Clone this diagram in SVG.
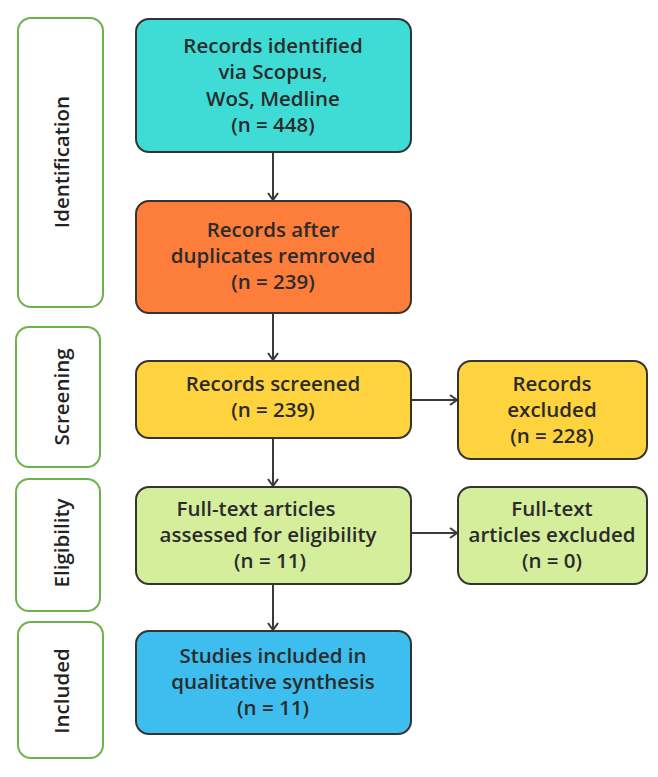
<svg xmlns="http://www.w3.org/2000/svg" width="658" height="777" viewBox="0 0 658 777">
<defs>
<style>
.stage{fill:#ffffff;stroke:#6db34b;stroke-width:2}
.node{stroke:#333333;stroke-width:2}
.t{font-family:"Open Sans","Liberation Sans",sans-serif;font-size:20.5px;font-weight:600;fill:#2b2b2b;text-anchor:middle}
.st{font-family:"Open Sans","Liberation Sans",sans-serif;font-size:20.5px;font-weight:600;fill:#222222;text-anchor:middle}
.edge{stroke:#3a3a3a;stroke-width:2;fill:none}
</style>
<marker id="arr" markerWidth="12" markerHeight="12" refX="9" refY="6" orient="auto" markerUnits="userSpaceOnUse">
<path d="M2,1 L9,6 L2,11" fill="none" stroke="#3a3a3a" stroke-width="2"/>
</marker>
</defs>
<rect width="658" height="777" fill="#ffffff"/>

<g id="stage-identification">
<rect class="stage" x="18" y="18" width="85" height="289" rx="13"/>
<text class="st" transform="translate(69,162) rotate(-90)">Identification</text>
</g>
<g id="stage-screening">
<rect class="stage" x="16" y="327" width="84" height="140" rx="13"/>
<text class="st" transform="translate(69,397) rotate(-90)">Screening</text>
</g>
<g id="stage-eligibility">
<rect class="stage" x="16" y="479" width="84" height="132" rx="13"/>
<text class="st" transform="translate(69,543) rotate(-90)">Eligibility</text>
</g>
<g id="stage-included">
<rect class="stage" x="18" y="622" width="85" height="136" rx="13"/>
<text class="st" transform="translate(69,691) rotate(-90)">Included</text>
</g>

<g id="connectors">
<line class="edge" x1="273" y1="152" x2="273" y2="200" marker-end="url(#arr)"/>
<line class="edge" x1="273" y1="313" x2="273" y2="360" marker-end="url(#arr)"/>
<line class="edge" x1="273" y1="438" x2="273" y2="486" marker-end="url(#arr)"/>
<line class="edge" x1="273" y1="584" x2="273" y2="630" marker-end="url(#arr)"/>
<line class="edge" x1="411" y1="400" x2="457" y2="400" marker-end="url(#arr)"/>
<line class="edge" x1="411" y1="533" x2="457" y2="533" marker-end="url(#arr)"/>
</g>

<g id="node-identified">
<rect class="node" x="136" y="19" width="275" height="133" rx="13" fill="#3edcd5"/>
<text class="t" x="273" y="53">Records identified</text>
<text class="t" x="273" y="79">via Scopus,</text>
<text class="t" x="273" y="106">WoS, Medline</text>
<text class="t" x="273" y="132">(n = 448)</text>
</g>
<g id="node-duplicates">
<rect class="node" x="136" y="201" width="275" height="112" rx="13" fill="#fd7e3b"/>
<text class="t" x="273" y="237">Records after</text>
<text class="t" x="273" y="263">duplicates remroved</text>
<text class="t" x="273" y="289">(n = 239)</text>
</g>
<g id="node-screened">
<rect class="node" x="136" y="361" width="275" height="77" rx="13" fill="#fed33e"/>
<text class="t" x="273" y="391">Records screened</text>
<text class="t" x="273" y="417">(n = 239)</text>
</g>
<g id="node-excluded">
<rect class="node" x="458" y="361" width="189" height="98" rx="13" fill="#fed33e"/>
<text class="t" x="552" y="391">Records</text>
<text class="t" x="552" y="417">excluded</text>
<text class="t" x="552" y="443">(n = 228)</text>
</g>
<g id="node-fulltext">
<rect class="node" x="136" y="487" width="275" height="97" rx="13" fill="#d4ee9c"/>
<text class="t" x="256" y="516">Full-text articles</text>
<text class="t" x="268" y="542">assessed for eligibility</text>
<text class="t" x="270" y="568">(n = 11)</text>
</g>
<g id="node-fulltext-excluded">
<rect class="node" x="458" y="487" width="189" height="97" rx="13" fill="#d4ee9c"/>
<text class="t" x="552" y="516">Full-text</text>
<text class="t" x="552" y="542">articles excluded</text>
<text class="t" x="552" y="568">(n = 0)</text>
</g>
<g id="node-included">
<rect class="node" x="136" y="631" width="275" height="103" rx="13" fill="#3dbeee"/>
<text class="t" x="273" y="663">Studies included in</text>
<text class="t" x="273" y="689">qualitative synthesis</text>
<text class="t" x="273" y="715">(n = 11)</text>
</g>
</svg>
